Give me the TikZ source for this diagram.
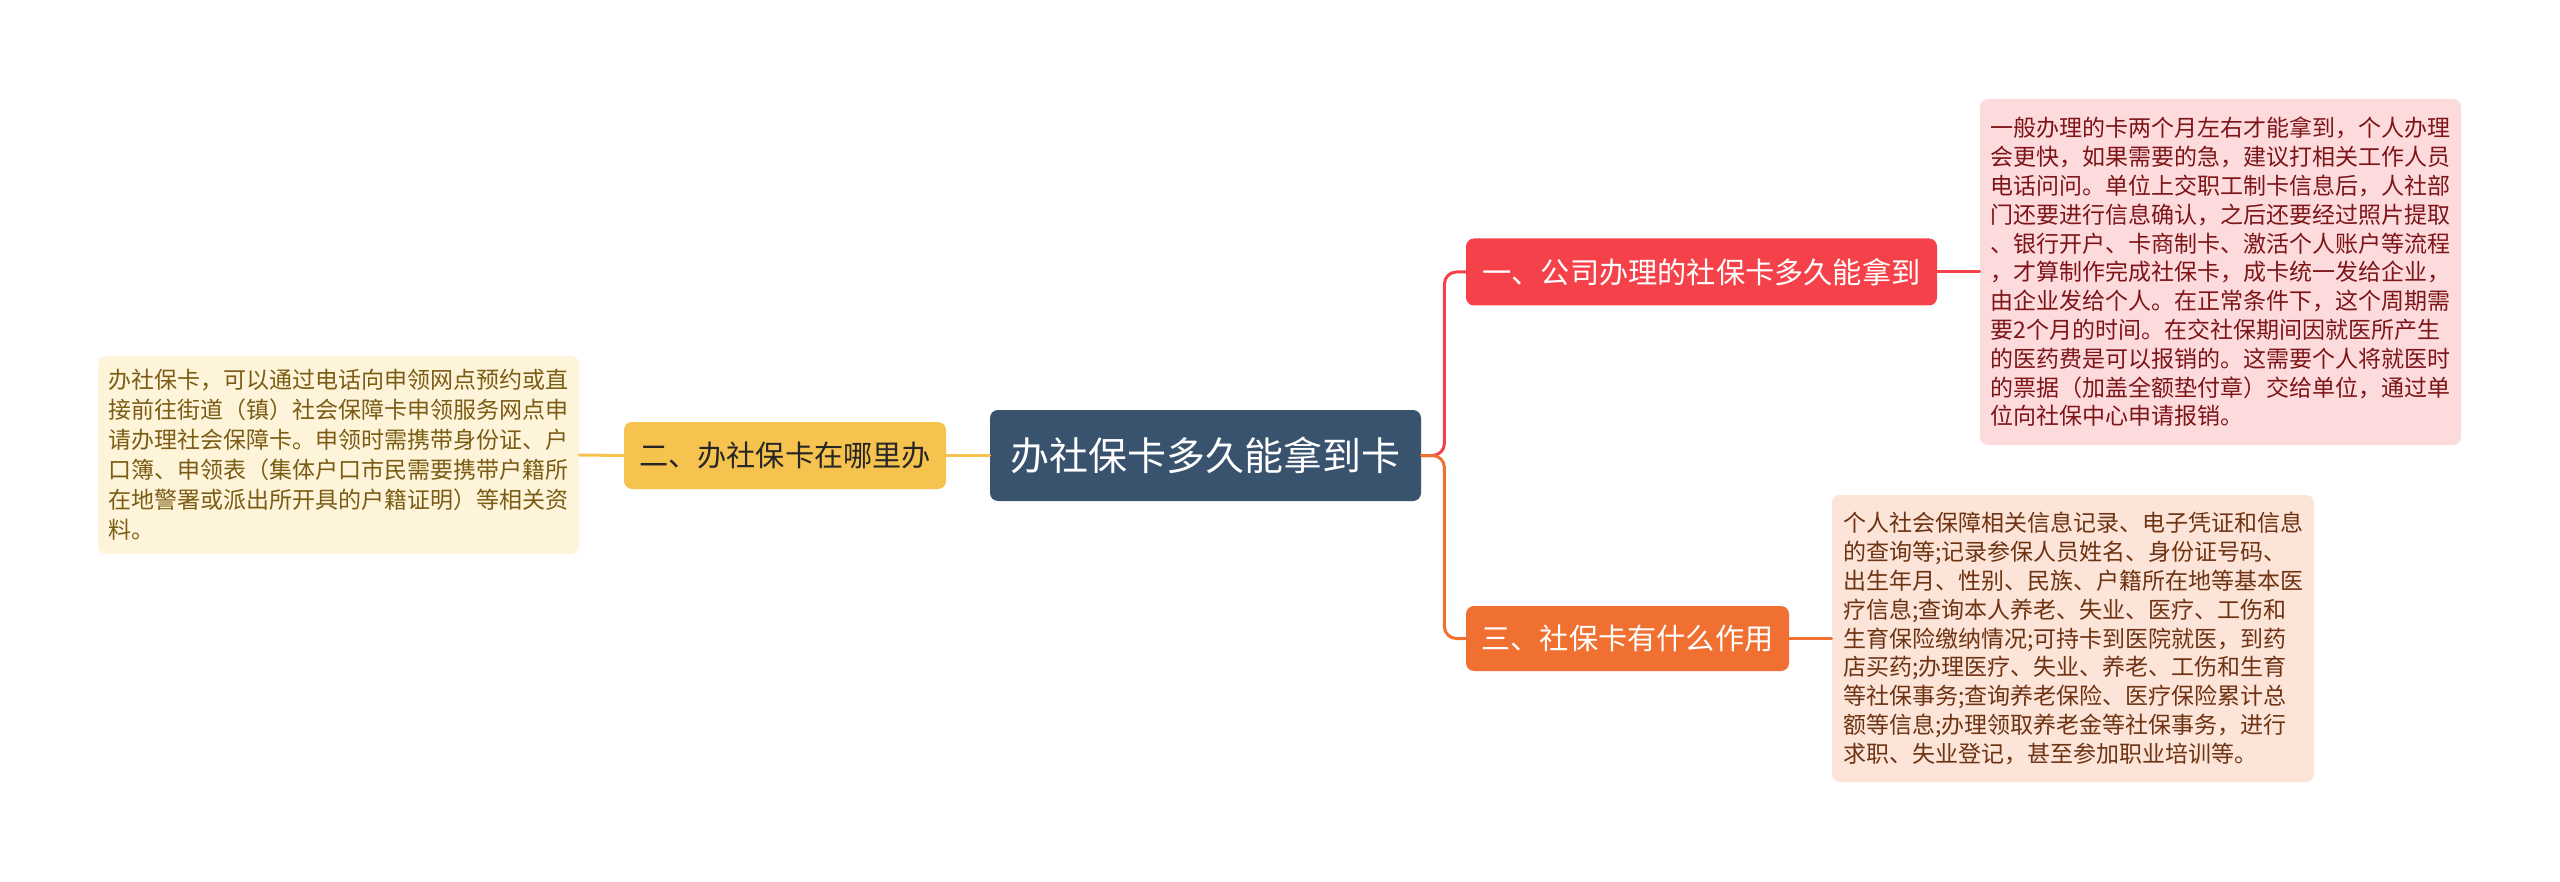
\documentclass[tikz,border=0pt]{standalone}
\usepackage{fontspec}
\setmainfont{Noto Sans CJK SC}
\definecolor{rootbg}{HTML}{39536F}
\definecolor{ybg}{HTML}{F6C44E}
\definecolor{rbg}{HTML}{F5424A}
\definecolor{obg}{HTML}{EF7030}
\definecolor{yleaf}{HTML}{FEF4D9}
\definecolor{rleaf}{HTML}{FDDBDD}
\definecolor{oleaf}{HTML}{FCE4D8}
\definecolor{ytext}{HTML}{7B5C14}
\definecolor{rtext}{HTML}{7D1518}
\definecolor{otext}{HTML}{6E3312}
\begin{document}
\begin{tikzpicture}[x=.5pt,y=-.5pt,line join=round,line cap=round,
	root/.style={fill=rootbg,text=white,rounded corners=4pt,minimum width=215.5pt,minimum height=45.5pt,font=\fontsize{19.5pt}{24pt}\selectfont},
	branch/.style={rounded corners=4pt,minimum height=33.5pt,inner sep=0pt,font=\fontsize{14.6pt}{18pt}\selectfont},
	leaf/.style={rounded corners=4pt,align=left,inner sep=0pt,font=\fontsize{11.5pt}{14.4pt}\selectfont},
	link/.style={line width=1.5pt,rounded corners=6pt}]
	\useasboundingbox[fill=white] (0,0) rectangle (2560,882);
	% centre and first level
	\node[root] (root) at (1205.5,455.5) {办社保卡多久能拿到卡};
	\node[branch,fill=ybg,text=black!85,minimum width=161pt] (b2) at (785,455.5) {二、办社保卡在哪里办};
	\node[branch,fill=rbg,text=white,minimum width=235.5pt] (b1) at (1701.5,272) {一、公司办理的社保卡多久能拿到};
	\node[branch,fill=obg,text=white,minimum width=161.5pt,minimum height=32.5pt] (b3) at (1627.5,638.5) {三、社保卡有什么作用};
	% leaves
	\node[leaf,fill=yleaf,text=ytext,minimum width=240.5pt,minimum height=99pt,font=\fontsize{11.5pt}{15pt}\selectfont] (l2) at (338.5,455) {办社保卡，可以通过电话向申领网点预约或直\\接前往街道（镇）社会保障卡申领服务网点申\\请办理社会保障卡。申领时需携带身份证、户\\口簿、申领表（集体户口市民需要携带户籍所\\在地警署或派出所开具的户籍证明）等相关资\\料。};
	\node[leaf,fill=rleaf,text=rtext,minimum width=240.5pt,minimum height=173pt] (l1) at (2220.5,272) {一般办理的卡两个月左右才能拿到，个人办理\\会更快，如果需要的急，建议打相关工作人员\\电话问问。单位上交职工制卡信息后，人社部\\门还要进行信息确认，之后还要经过照片提取\\、银行开户、卡商制卡、激活个人账户等流程\\，才算制作完成社保卡，成卡统一发给企业，\\由企业发给个人。在正常条件下，这个周期需\\要2个月的时间。在交社保期间因就医所产生\\的医药费是可以报销的。这需要个人将就医时\\的票据（加盖全额垫付章）交给单位，通过单\\位向社保中心申请报销。};
	\node[leaf,fill=oleaf,text=otext,minimum width=241pt,minimum height=143.5pt] (l3) at (2073,638.5) {个人社会保障相关信息记录、电子凭证和信息\\的查询等;记录参保人员姓名、身份证号码、\\出生年月、性别、民族、户籍所在地等基本医\\疗信息;查询本人养老、失业、医疗、工伤和\\生育保险缴纳情况;可持卡到医院就医，到药\\店买药;办理医疗、失业、养老、工伤和生育\\等社保事务;查询养老保险、医疗保险累计总\\额等信息;办理领取养老金等社保事务，进行\\求职、失业登记，甚至参加职业培训等。};
	% links
	\draw[link,rbg] (root.east) -- ++(23,0) |- (b1.west);
	\draw[link,obg] (root.east) -- ++(23,0) |- (b3.west);
	\draw[link,ybg] (root.west) -- (b2.east);
	\draw[link,ybg] (b2.west) -- (l2.east);
	\draw[link,rbg] (b1.east) -- (l1.west);
	\draw[link,obg] (b3.east) -- (l3.west);
\end{tikzpicture}
\end{document}
